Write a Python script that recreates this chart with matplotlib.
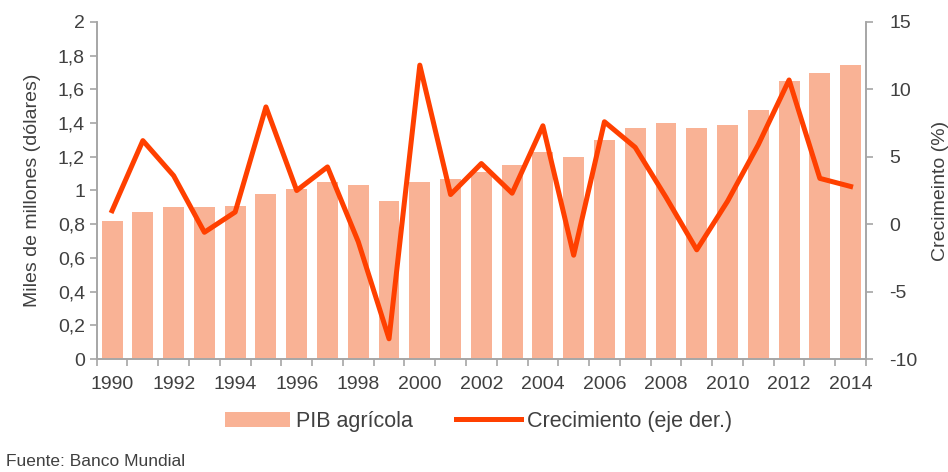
import numpy as np
import matplotlib
matplotlib.use('Agg')
import matplotlib.pyplot as plt
from matplotlib.ticker import FuncFormatter, FixedLocator

plt.rcParams['font.family'] = ['Liberation Sans', 'DejaVu Sans']
plt.rcParams['axes.unicode_minus'] = False

years = list(range(1990, 2015))
pib = [0.82, 0.87, 0.90, 0.90, 0.91, 0.98, 1.01, 1.05, 1.03, 0.94,
       1.05, 1.07, 1.11, 1.15, 1.23, 1.20, 1.30, 1.37, 1.40, 1.37,
       1.39, 1.48, 1.65, 1.70, 1.745]
crec = [1.0, 6.2, 3.6, -0.6, 0.9, 8.7, 2.5, 4.25, -1.3, -8.5,
        11.8, 2.2, 4.5, 2.3, 7.3, -2.3, 7.6, 5.7, 2.0, -1.9,
        1.7, 5.9, 10.7, 3.4, 2.8]
xlabels = [str(y) for y in years[::2]]

bar_col = '#F9B295'
line_col = '#FF4000'
axis_col = '#A6A6A6'
txt_col = '#404040'

fig = plt.figure(figsize=(9.48, 4.72), dpi=100)
ax = fig.add_axes([0.102, 0.2394, 0.8115, 0.714])
ax2 = ax.twinx()

x = np.arange(len(years))
ax.bar(x, pib, width=0.68, color=bar_col, label='PIB agrícola', zorder=1)
ax2.plot(x, crec, color=line_col, lw=3.6, label='Crecimiento (eje der.)',
         solid_joinstyle='round')

ax.set_xlim(-0.5, len(years) - 0.5)
ax.set_ylim(0, 2)
ax2.set_ylim(-10, 15)
ax.set_yticks(np.arange(0, 2.01, 0.2))
ax.yaxis.set_major_formatter(FuncFormatter(
    lambda v, p: ('%g' % round(v, 1)).replace('.', ',')))
ax2.set_yticks(range(-10, 16, 5))

ax.set_xticks(x[::2])
ax.set_xticklabels(xlabels)
ax.xaxis.set_minor_locator(FixedLocator(np.arange(-0.5, len(years), 1)))
ax.tick_params(axis='x', which='major', length=0, pad=12)
ax.tick_params(axis='x', which='minor', length=5, color=axis_col, width=1.2)

for a in (ax, ax2):
    a.spines['top'].set_visible(False)
    for s in ('left', 'right', 'bottom'):
        a.spines[s].set_color(axis_col)
        a.spines[s].set_linewidth(1.2)
    a.tick_params(axis='y', length=5, color=axis_col, width=1.2,
                  labelsize=14, labelcolor=txt_col)
    a.tick_params(axis='x', labelsize=14, labelcolor=txt_col)
ax2.tick_params(axis='y', pad=12)

ax.set_ylabel('Miles de millones (dólares)', fontsize=14, color=txt_col, labelpad=12)
ax2.set_ylabel('Crecimeinto (%)', fontsize=14, color=txt_col, labelpad=10)

h1, l1 = ax.get_legend_handles_labels()
h2, l2 = ax2.get_legend_handles_labels()
fig.legend(h1 + h2, l1 + l2, loc='center', bbox_to_anchor=(0.505, 0.107),
           ncol=2, frameon=False, fontsize=15.5, handlelength=3.0,
           handletextpad=0.3, columnspacing=2.0, labelcolor=txt_col)

fig.text(0.006, 0.012, 'Fuente: Banco Mundial', fontsize=12.5, color=txt_col)

fig.savefig('out.png', dpi=100)
